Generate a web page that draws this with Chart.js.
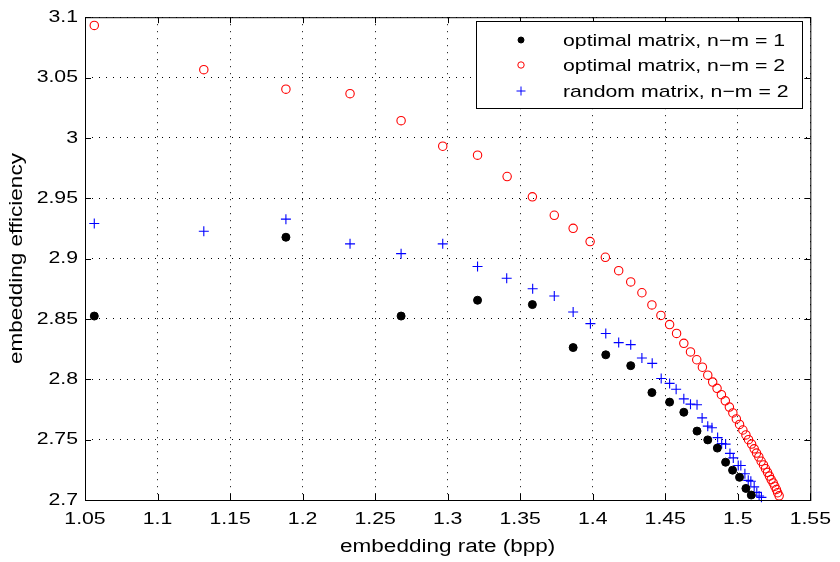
<!DOCTYPE html>
<html>
<head>
<meta charset="utf-8">
<script src="https://cdn.jsdelivr.net/npm/chart.js@4/dist/chart.umd.min.js"></script>
<style>
  html, body { margin: 0; padding: 0; background: #fff; }
  #wrap { width: 840px; height: 562px; }
</style>
</head>
<body>
<div id="wrap"><canvas id="effChart"></canvas></div>
<script>
// data
const xOpt1 = [1.0564, 1.1885, 1.2679, 1.3206, 1.3584, 1.3865, 1.4090, 1.4262, 1.4408, 1.4530,
  1.4628, 1.4719, 1.4793, 1.4859, 1.4916, 1.4964, 1.5012, 1.5056, 1.5093];
const yOpt1 = [2.8524, 2.9177, 2.8524, 2.8655, 2.8619, 2.8263, 2.8203, 2.8113, 2.7890, 2.7811,
  2.7727, 2.7571, 2.7498, 2.7430, 2.7313, 2.7247, 2.7188, 2.7096, 2.7041];

const xOpt2 = [1.0564, 1.1319, 1.1885, 1.2327, 1.2679, 1.2966, 1.3206, 1.3410, 1.3584, 1.3735,
  1.3865, 1.3982, 1.4087, 1.4179, 1.4262, 1.4339, 1.4408, 1.4470, 1.4530, 1.4578,
  1.4628, 1.4674, 1.4717, 1.4756, 1.4793, 1.4827, 1.4857, 1.4887, 1.4914, 1.4942,
  1.4966, 1.4990, 1.5012, 1.5035, 1.5056, 1.5074, 1.5095, 1.5113, 1.5129, 1.5145,
  1.5161, 1.5177, 1.5191, 1.5205, 1.5218, 1.5230, 1.5244, 1.5255, 1.5266, 1.5275, 1.5285];
const yOpt2 = [3.0932, 3.0565, 3.0404, 3.0366, 3.0143, 2.9931, 2.9857, 2.9680, 2.9512, 2.9359,
  2.9251, 2.9141, 2.9011, 2.8900, 2.8807, 2.8717, 2.8616, 2.8529, 2.8453, 2.8380,
  2.8298, 2.8227, 2.8162, 2.8100, 2.8034, 2.7977, 2.7925, 2.7873, 2.7822, 2.7770,
  2.7721, 2.7672, 2.7626, 2.7580, 2.7539, 2.7500, 2.7463, 2.7424, 2.7389, 2.7357,
  2.7321, 2.7291, 2.7259, 2.7229, 2.7198, 2.7169, 2.7141, 2.7114, 2.7087, 2.7060, 2.7035];

const xRand2 = [1.0564, 1.1319, 1.1885, 1.2327, 1.2679, 1.2966, 1.3206, 1.3407, 1.3586, 1.3735,
  1.3865, 1.3984, 1.4090, 1.4179, 1.4262, 1.4339, 1.4410, 1.4472, 1.4530, 1.4575,
  1.4628, 1.4674, 1.4719, 1.4754, 1.4793, 1.4822, 1.4861, 1.4889, 1.4916, 1.4946,
  1.4969, 1.5003, 1.5021, 1.5049, 1.5072, 1.5090, 1.5113, 1.5131, 1.5147, 1.5163];
const yRand2 = [2.9291, 2.9226, 2.9327, 2.9122, 2.9041, 2.9122, 2.8935, 2.8837, 2.8750, 2.8690,
  2.8557, 2.8461, 2.8380, 2.8304, 2.8287, 2.8176, 2.8132, 2.8007, 2.7966, 2.7917,
  2.7838, 2.7794, 2.7789, 2.7680, 2.7612, 2.7599, 2.7517, 2.7468, 2.7463, 2.7386,
  2.7349, 2.7286, 2.7286, 2.7218, 2.7163, 2.7155, 2.7109, 2.7063, 2.7033, 2.7022];

const xTicks = [1.05, 1.1, 1.15, 1.2, 1.25, 1.3, 1.35, 1.4, 1.45, 1.5, 1.55];
const yTicks = [2.7, 2.75, 2.8, 2.85, 2.9, 2.95, 3, 3.05, 3.1];

const toPoints = (xs, ys) => xs.map((x, i) => ({ x: x, y: ys[i] }));

const FONT = '"Liberation Sans", Arial, Helvetica, sans-serif';

// the source figure has its text stretched along the baseline, so widen glyphs a bit
const SX = 1.25;
const canvas = document.getElementById('effChart');
const c2d = canvas.getContext('2d');
const rawFill = c2d.fillText.bind(c2d);
const rawMeasure = c2d.measureText.bind(c2d);
c2d.fillText = (text, x, y) => {
  c2d.save();
  c2d.translate(x, y);
  c2d.scale(SX, 1);
  rawFill(text, 0, 0);
  c2d.restore();
};
c2d.measureText = text => {
  const m = rawMeasure(text);
  return {
    width: m.width * SX,
    actualBoundingBoxAscent: m.actualBoundingBoxAscent,
    actualBoundingBoxDescent: m.actualBoundingBoxDescent,
    actualBoundingBoxLeft: m.actualBoundingBoxLeft * SX,
    actualBoundingBoxRight: m.actualBoundingBoxRight * SX
  };
};

// MATLAB-like box, inward ticks and legend box
const framePlugin = {
  id: 'frame',
  afterDraw(chart) {
    const { ctx, chartArea: a, scales } = chart;
    ctx.save();
    ctx.strokeStyle = '#000';
    ctx.lineWidth = 1;
    ctx.strokeRect(a.left + 0.5, a.top + 0.5, a.right - a.left, a.bottom - a.top);

    const tl = 6;
    ctx.beginPath();
    scales.x.ticks.forEach(t => {
      const px = Math.round(scales.x.getPixelForValue(t.value)) + 0.5;
      ctx.moveTo(px, a.bottom); ctx.lineTo(px, a.bottom - tl);
      ctx.moveTo(px, a.top); ctx.lineTo(px, a.top + tl);
    });
    scales.y.ticks.forEach(t => {
      const py = Math.round(scales.y.getPixelForValue(t.value)) + 0.5;
      ctx.moveTo(a.left, py); ctx.lineTo(a.left + tl, py);
      ctx.moveTo(a.right, py); ctx.lineTo(a.right - tl, py);
    });
    ctx.stroke();

    // legend
    const bx = 476.5, by = 21.5, bw = 326, bh = 87;
    ctx.fillStyle = '#fff';
    ctx.fillRect(bx, by, bw, bh);
    ctx.strokeRect(bx, by, bw, bh);
    const rows = [40, 65, 91];
    const mSize = [3, 3.2, 4.5];
    ctx.font = '17px ' + FONT;
    ctx.textBaseline = 'middle';
    ctx.textAlign = 'left';
    chart.data.datasets.forEach((ds, i) => {
      ctx.fillStyle = ds.backgroundColor;
      ctx.strokeStyle = ds.borderColor;
      ctx.lineWidth = 1;
      Chart.helpers.drawPoint(ctx, { pointStyle: ds.pointStyle, radius: mSize[i], borderWidth: 1 }, 521, rows[i]);
      ctx.fillStyle = '#000';
      ctx.fillText(ds.label, 563, rows[i] + 1);
    });
    ctx.restore();
  }
};

new Chart(canvas, {
  type: 'scatter',
  data: {
    datasets: [
      {
        label: 'optimal matrix, n\u2212m = 1',
        data: toPoints(xOpt1, yOpt1),
        pointStyle: 'circle',
        pointRadius: 4,
        backgroundColor: '#000',
        borderColor: '#000',
        borderWidth: 1
      },
      {
        label: 'optimal matrix, n\u2212m = 2',
        data: toPoints(xOpt2, yOpt2),
        pointStyle: 'circle',
        pointRadius: 4.2,
        backgroundColor: 'rgba(0,0,0,0)',
        borderColor: '#ff0000',
        borderWidth: 1.1
      },
      {
        label: 'random matrix, n\u2212m = 2',
        data: toPoints(xRand2, yRand2),
        pointStyle: 'cross',
        pointRadius: 5,
        backgroundColor: 'rgba(0,0,0,0)',
        borderColor: '#0000ff',
        borderWidth: 1.1
      }
    ]
  },
  plugins: [framePlugin],
  options: {
    responsive: true,
    maintainAspectRatio: false,
    animation: false,
    clip: false,
    layout: { padding: { left: 0, right: 27, top: 10, bottom: 0 } },
    plugins: {
      legend: { display: false },
      tooltip: { enabled: false }
    },
    scales: {
      x: {
        type: 'linear',
        min: 1.05,
        max: 1.55,
        afterBuildTicks: s => { s.ticks = xTicks.map(v => ({ value: v })); },
        afterFit: s => { s.height = 62; },
        ticks: {
          color: '#000',
          padding: 9,
          maxRotation: 0,
          font: { family: FONT, size: 17 },
          callback: v => String(v)
        },
        grid: { color: '#000', lineWidth: 1, drawTicks: false },
        border: { display: false, dash: [1, 6] },
        title: {
          display: true,
          text: 'embedding rate (bpp)',
          color: '#000',
          font: { family: FONT, size: 18 },
          padding: { top: 4, bottom: 4 }
        }
      },
      y: {
        type: 'linear',
        min: 2.7,
        max: 3.1,
        afterBuildTicks: s => { s.ticks = yTicks.map(v => ({ value: v })); },
        afterFit: s => { s.width = 85; },
        ticks: {
          color: '#000',
          padding: 7,
          font: { family: FONT, size: 17 },
          callback: v => String(v)
        },
        grid: { color: '#000', lineWidth: 1, drawTicks: false },
        border: { display: false, dash: [1, 6] },
        title: {
          display: true,
          text: 'embedding efficiency',
          color: '#000',
          font: { family: FONT, size: 18 },
          padding: { top: 6, bottom: 4 }
        }
      }
    }
  }
});
</script>
</body>
</html>
